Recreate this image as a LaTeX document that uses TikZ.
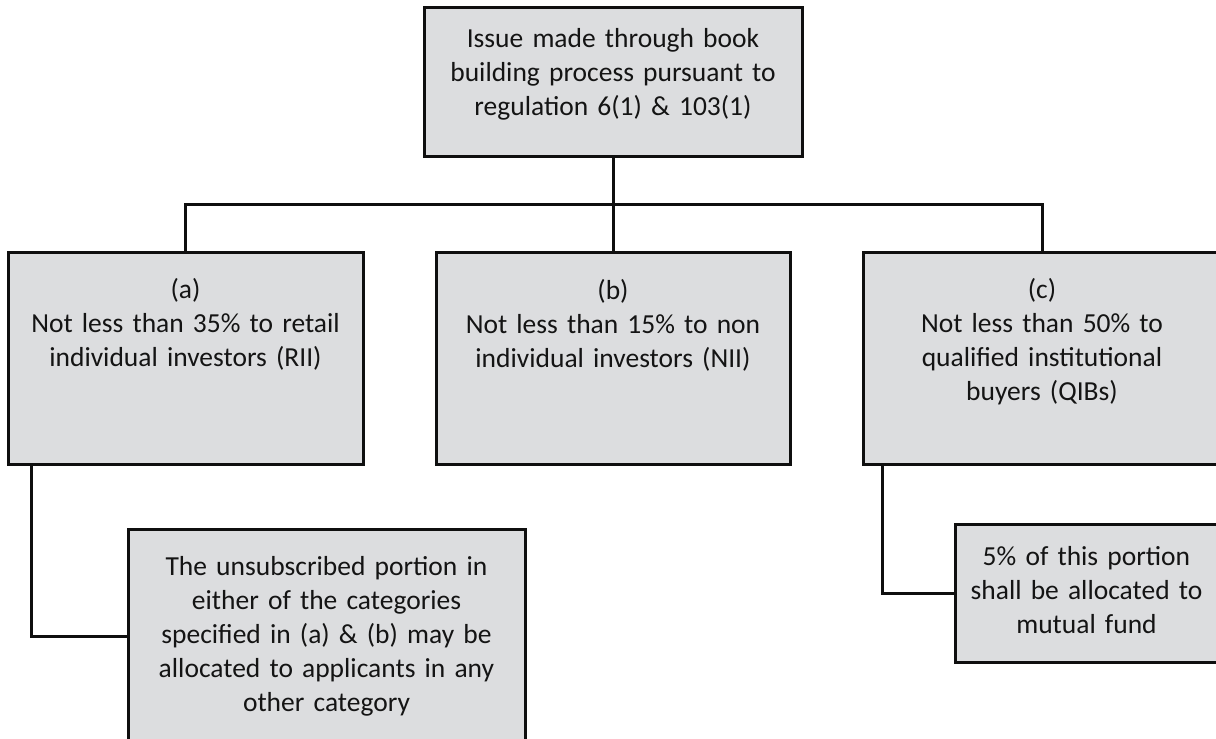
\documentclass[tikz,border=0pt]{standalone}
\usepackage{fontspec}
\setmainfont{Carlito}
\definecolor{boxfill}{RGB}{220,221,223}
\definecolor{edge}{RGB}{15,15,15}
\definecolor{ink}{RGB}{20,20,20}
\begin{document}
\begin{tikzpicture}[x=1pt,y=-1pt,
  box/.style={draw=edge, fill=boxfill, line width=3pt, inner sep=0pt, outer sep=0pt, rectangle},
  conn/.style={draw=edge, line width=3pt, line join=miter},
  txt/.style={inner sep=0pt, outer sep=0pt, text width=380pt, align=center, anchor=base, text=ink,
    font=\fontsize{27.5}{34}\selectfont}]
\useasboundingbox (0,0) rectangle (1216,739);
\clip (0,0) rectangle (1216,739);
% boxes
\node[box, minimum width=378pt, minimum height=149pt] (top) at (613,81.5) {};
\node[box, minimum width=355pt, minimum height=212pt] (a) at (185.5,358) {};
\node[box, minimum width=354pt, minimum height=212pt] (b) at (613,358) {};
\node[box, minimum width=358pt, minimum height=212pt] (c) at (1042,358) {};
\node[box, minimum width=397pt, minimum height=214pt] (d) at (326.5,636) {};
\node[box, minimum width=263pt, minimum height=138pt] (e) at (1086.5,593) {};
% connectors
\coordinate (bus) at (613,204);
\draw[conn] (top.south) -- (bus);
\draw[conn] (bus) -| (a.north);
\draw[conn] (bus) -| (c.north);
\draw[conn] (bus) -- (b.north);
\draw[conn] ([xshift=23pt]a.south west) |- (d.west);
\draw[conn] ([xshift=19pt]c.south west) |- (e.west);
% texts
\node[txt] (ttop) at (613,47) {Issue made through book\\building process pursuant to\\regulation 6(1) \& 103(1)};
\node[txt] (ta) at (185.5,298) {(a)\\Not less than 35\% to retail\\individual investors (RII)};
\node[txt] (tb) at (613,299) {(b)\\Not less than 15\% to non\\individual investors (NII)};
\node[txt] (tc) at (1042,298) {(c)\\Not less than 50\% to\\qualified institutional\\buyers (QIBs)};
\node[txt] (td) at (326.5,575) {The unsubscribed portion in\\either of the categories\\specified in (a) \& (b) may be\\allocated to applicants in any\\other category};
\node[txt] (te) at (1086.5,565) {5\% of this portion\\shall be allocated to\\mutual fund};
\end{tikzpicture}
\end{document}
